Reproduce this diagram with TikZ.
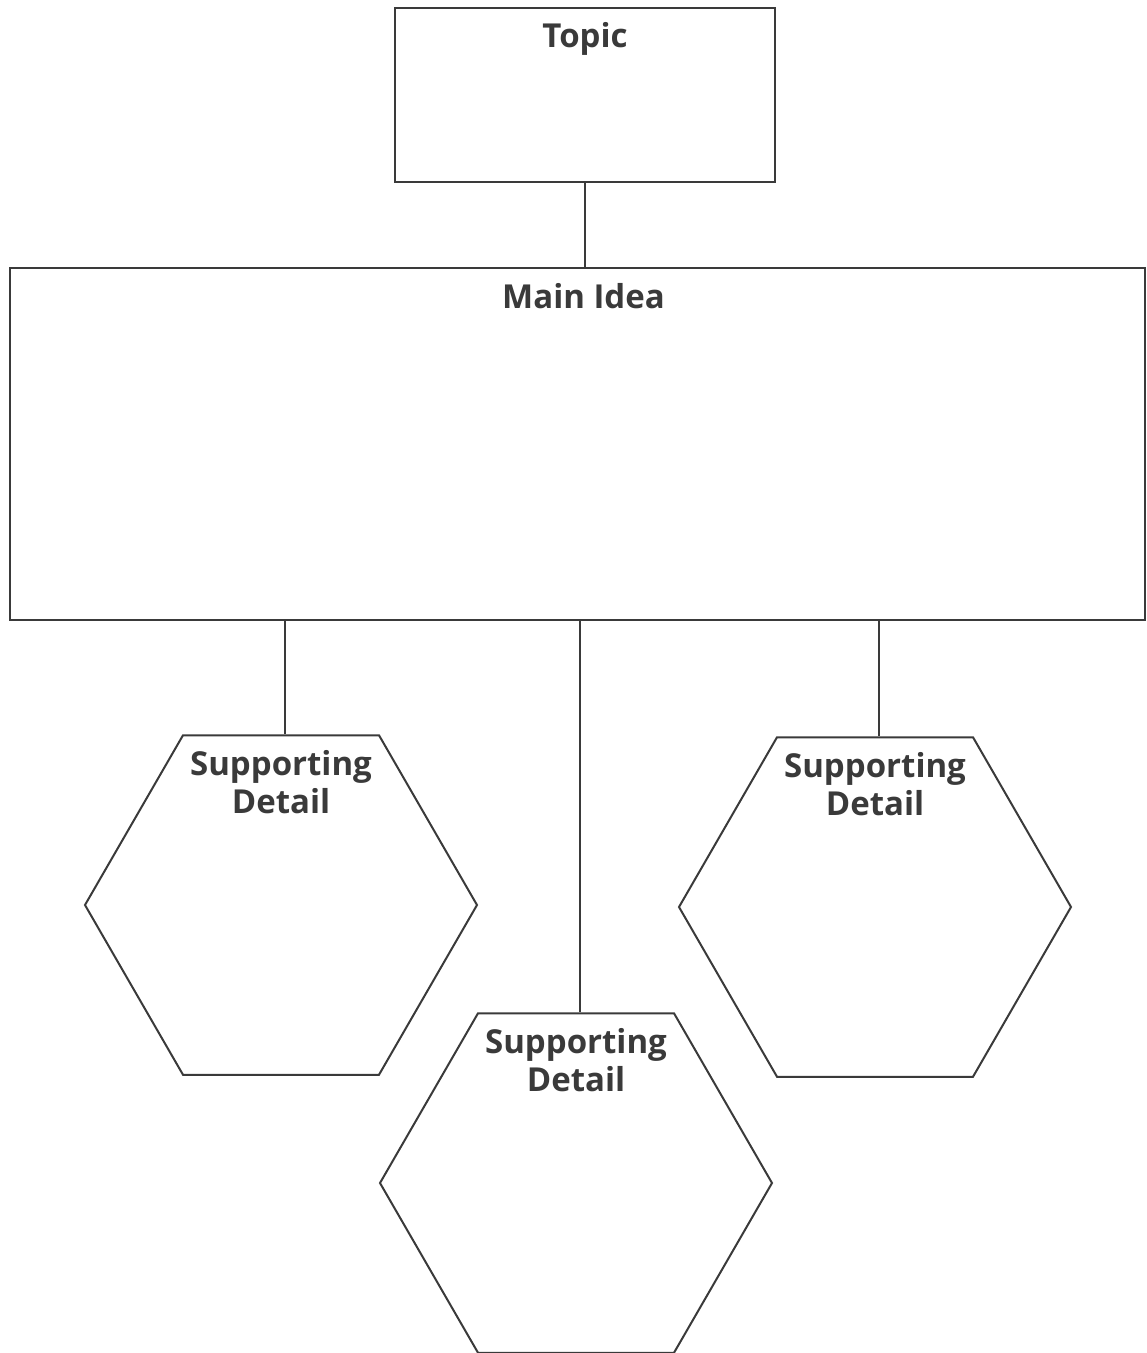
\documentclass[tikz,border=0pt]{standalone}
\usepackage{fontspec}
\setmainfont{Open Sans}
\usetikzlibrary{shapes.geometric}
\definecolor{ink}{HTML}{3A3A3A}

\tikzset{
  box/.style={draw=ink,line width=1pt,inner sep=0pt},
  hexa/.style={draw=ink,line width=1pt,regular polygon,regular polygon sides=6,
    minimum size=196pt,inner sep=0pt},
  title/.style={anchor=north,inner sep=0pt,align=center,text=ink,
    font=\fontsize{16.5}{19}\selectfont\bfseries},
  link/.style={draw=ink,line width=1pt}
}

\begin{document}
\begin{tikzpicture}[x=0.5pt,y=-0.5pt]
  \useasboundingbox (0,0) rectangle (1146,1353);

  % boxes
  \node[box,minimum width=190pt,minimum height=87pt] (topic) at (585,95) {};
  \node[box,minimum width=567.5pt,minimum height=176pt] (main) at (577.5,444) {};

  % supporting details
  \node[hexa] (det1) at (281,905) {};
  \node[hexa] (det2) at (576,1183) {};
  \node[hexa] (det3) at (875,907) {};

  % texts
  \node[title] (topic-t) at ([yshift=-7.5pt]topic.north) {Topic};
  \node[title] (main-t) at ([xshift=3pt,yshift=-8pt]main.north) {Main Idea};
  \foreach \d in {1,2,3}
    \node[title] (det\d-t) at ([yshift=-8pt]det\d.north) {Supporting\\Detail};

  % connectors
  \draw[link] (topic.south) -- (topic.south |- main.north);
  \foreach \d in {1,2,3}
    \draw[link] ([xshift=2pt]det\d.north) -- ([xshift=2pt]det\d.north |- main.south);

\end{tikzpicture}
\end{document}
